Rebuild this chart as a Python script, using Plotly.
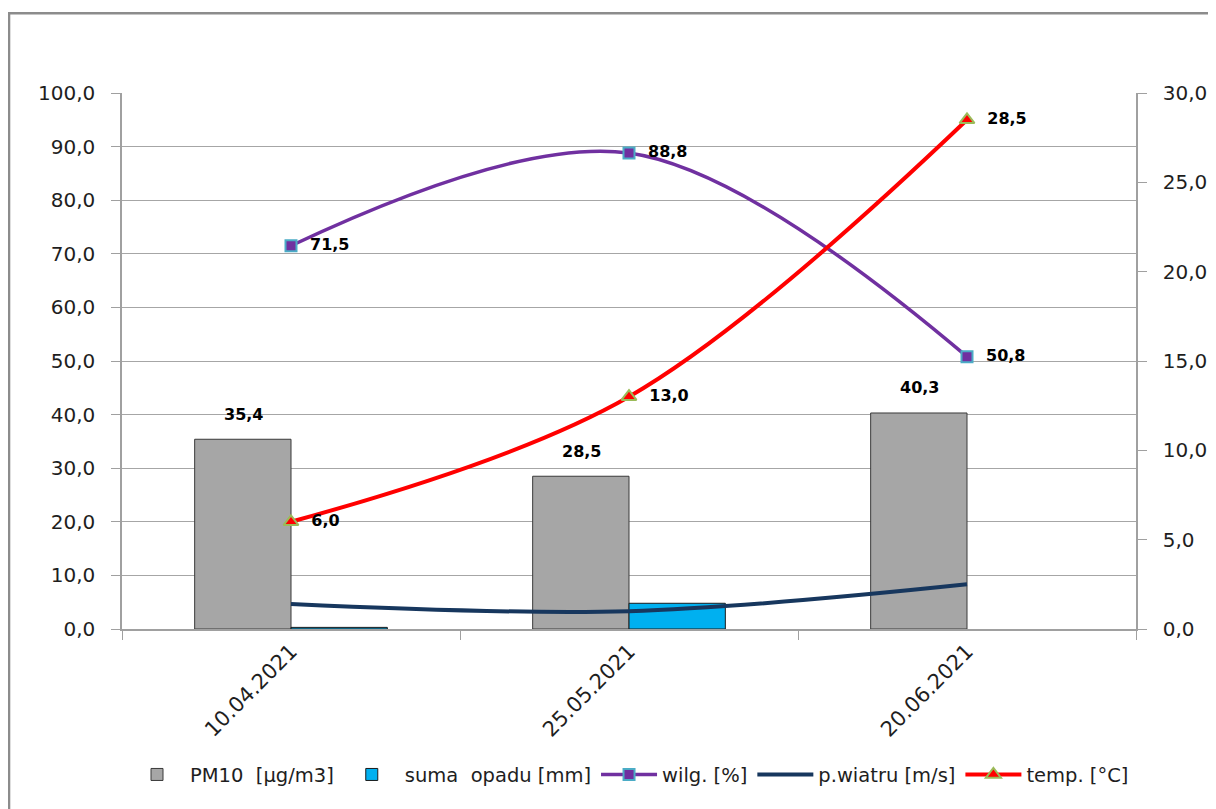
import plotly.graph_objects as go

dates = ["10.04.2021", "25.05.2021", "20.06.2021"]
pm10 = [35.4, 28.5, 40.3]
opad = [0.3, 4.8, None]
wilg = [71.5, 88.8, 50.8]
wiatr = [1.4, 1.0, 2.5]
temp = [6.0, 13.0, 28.5]

def fmt(v):
    return f"{v:.1f}".replace(".", ",")

FONT = "DejaVu Sans"
TXT = "#1e1e1e"
lab_font = dict(family=FONT, size=16, color="black", weight="bold")

fig = go.Figure()
fig.add_trace(go.Bar(
    x=dates, y=pm10, name="PM10  [µg/m3]",
    marker=dict(color="#a6a6a6", line=dict(color="#3a3a3a", width=1)),
))
fig.add_trace(go.Bar(
    x=dates, y=opad, name="suma  opadu [mm]",
    marker=dict(color="#00b0f0", line=dict(color="#1a1a1a", width=1)),
))
fig.add_trace(go.Scatter(
    x=dates, y=wilg, name="wilg. [%]", mode="lines+markers+text",
    line=dict(color="#7030a0", width=3.5, shape="spline", smoothing=1.0),
    marker=dict(symbol="square", size=11, color="#7030a0",
                line=dict(color="#4bacc6", width=2)),
    text=["  " + fmt(v) for v in wilg], textposition="middle right",
    textfont=lab_font, cliponaxis=False,
))
fig.add_trace(go.Scatter(
    x=dates, y=wiatr, name="p.wiatru [m/s]", mode="lines", yaxis="y2",
    line=dict(color="#17375e", width=4, shape="spline", smoothing=1.0),
))
fig.add_trace(go.Scatter(
    x=dates, y=temp, name="temp. [°C]", mode="lines+markers+text", yaxis="y2",
    line=dict(color="#ff0000", width=4, shape="spline", smoothing=1.0),
    marker=dict(symbol="triangle-up", size=13, color="#ff0000",
                line=dict(color="#9bbb59", width=2)),
    text=["  " + fmt(v) for v in temp], textposition="middle right",
    textfont=lab_font, cliponaxis=False,
))

annotations = [
    dict(x=d, y=v, xref="x", yref="y", text=fmt(v), showarrow=False,
         xanchor="center", yanchor="middle", xshift=-48, yshift=25,
         font=lab_font)
    for d, v in zip(dates, pm10)
]

fig.update_layout(
    width=1216, height=809,
    margin=dict(l=114, r=88, t=85, b=188),
    paper_bgcolor="white", plot_bgcolor="white",
    separators=", ",
    font=dict(family=FONT, size=20, color=TXT),
    barmode="group", bargap=0.43, bargroupgap=0.0,
    showlegend=True,
    legend=dict(orientation="h", x=0.5, xanchor="center", y=-0.272, yanchor="middle",
                font=dict(family=FONT, size=19.5, color=TXT), traceorder="normal",
                itemwidth=56),
    xaxis=dict(type="category", tickson="boundaries", ticks="outside", ticklen=9,
               tickcolor="#a0a0a0", showline=True, linecolor="#a0a0a0", linewidth=1.5,
               showgrid=False, tickangle=-45, tickfont=dict(family=FONT, size=21, color=TXT)),
    yaxis=dict(range=[0, 100], dtick=10, tickformat=".1f", ticks="outside", ticklen=9,
               tickcolor="#a0a0a0", showline=True, linecolor="#a0a0a0", linewidth=1.5,
               showgrid=True, gridcolor="#a6a6a6", gridwidth=1.2, zeroline=False,
               ticklabelstandoff=12, tickfont=dict(family=FONT, size=20, color=TXT)),
    yaxis2=dict(range=[0, 30], dtick=5, tickformat=".1f", overlaying="y", side="right",
                ticks="outside", ticklen=9, tickcolor="#a0a0a0", showline=True,
                linecolor="#a0a0a0", linewidth=1.5, showgrid=False, zeroline=False,
                ticklabelstandoff=12, tickfont=dict(family=FONT, size=20, color=TXT)),
    annotations=annotations,
    shapes=[dict(type="rect", xref="paper", yref="paper",
                 x0=-0.1114, x1=1.1, y0=-0.36, y1=1.149,
                 line=dict(color="#8c8c8c", width=2.5), fillcolor="rgba(0,0,0,0)")],
)

fig.write_html("out.html")
